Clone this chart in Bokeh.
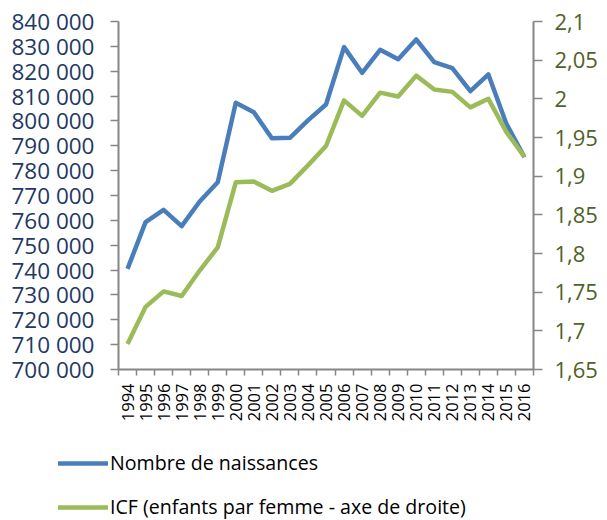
from bokeh.plotting import figure
from bokeh.models import (Range1d, LinearAxis, FixedTicker, CustomJSTickFormatter,
                          Legend, LegendItem)
from bokeh.embed import file_html
from bokeh.resources import INLINE

years = list(range(1994, 2017))
naissances = [740500, 759300, 764250, 757650, 767600, 775350, 807300, 803500,
              793000, 793200, 800200, 806600, 829700, 819350, 828600, 824850,
              832760, 823640, 821200, 811970, 818700, 798800, 785400]
icf = [1.683, 1.731, 1.751, 1.745, 1.778, 1.808, 1.892, 1.893, 1.881, 1.890,
       1.914, 1.939, 1.998, 1.978, 2.008, 2.003, 2.030, 2.012, 2.009, 1.989,
       2.000, 1.957, 1.925]
left_ticks = list(range(700000, 840001, 10000))
right_ticks = [1.65, 1.7, 1.75, 1.8, 1.85, 1.9, 1.95, 2.0, 2.05, 2.1]
labels = ["Nombre de naissances", "ICF (enfants par femme - axe de droite)"]

BLUE = "#4A7EBB"
GREEN = "#9BBB59"
AXIS = "#868686"
FONT = "Open Sans"

p = figure(width=607, height=430, output_backend="svg", toolbar_location=None,
           x_range=Range1d(years[0] - 0.5, years[-1] + 0.5),
           y_range=Range1d(700000, 840000),
           min_border_left=118, min_border_right=74, min_border_top=21,
           min_border_bottom=61)
p.outline_line_color = None
p.xgrid.visible = False
p.ygrid.visible = False
p.extra_y_ranges = {"icf": Range1d(1.65, 2.1)}

p.line(years, naissances, line_color=BLUE, line_width=4.5, line_join="round")
p.line(years, icf, line_color=GREEN, line_width=4.5, line_join="round",
       y_range_name="icf")

# x axis
xa = p.xaxis[0]
xa.ticker = FixedTicker(ticks=years, minor_ticks=[y - 0.5 for y in years] + [years[-1] + 0.5])
xa.formatter = CustomJSTickFormatter(code="return Math.round(tick).toString();")
xa.major_label_orientation = 3.14159265 / 2
xa.major_tick_out = 0
xa.major_tick_in = 0
xa.minor_tick_out = 6
xa.minor_tick_in = 0
xa.minor_tick_line_color = AXIS
xa.minor_tick_line_width = 1.5
xa.axis_line_color = AXIS
xa.axis_line_width = 2
xa.major_label_standoff = 8
xa.major_label_text_font = FONT
xa.major_label_text_font_size = "16.5px"
xa.major_label_text_color = "#000000"

# left axis
ya = p.yaxis[0]
ya.ticker = FixedTicker(ticks=left_ticks)
ya.formatter = CustomJSTickFormatter(
    code="const s = Math.round(tick).toString(); return s.slice(0,-3) + ' ' + s.slice(-3);")
ya.major_tick_out = 8
ya.major_tick_in = 0
ya.minor_tick_out = 0
ya.minor_tick_in = 0
ya.major_tick_line_color = AXIS
ya.major_tick_line_width = 1.5
ya.axis_line_color = AXIS
ya.axis_line_width = 2
ya.major_label_standoff = 16
ya.major_label_text_font = FONT
ya.major_label_text_font_size = "22.5px"
ya.major_label_text_color = "#1F3864"

# right axis
ra = LinearAxis(y_range_name="icf")
ra.ticker = FixedTicker(ticks=right_ticks)
ra.formatter = CustomJSTickFormatter(
    code="return (Math.round(tick*100)/100).toString().replace('.', ',');")
ra.major_tick_out = 9
ra.major_tick_in = 0
ra.minor_tick_out = 0
ra.minor_tick_in = 0
ra.major_tick_line_color = AXIS
ra.major_tick_line_width = 1.5
ra.axis_line_color = AXIS
ra.axis_line_width = 2
ra.major_label_standoff = 12
ra.major_label_text_font = FONT
ra.major_label_text_font_size = "22px"
ra.major_label_text_color = "#4F6228"
p.add_layout(ra, "right")

# legend panel below the chart (separate root, not frame-aligned)
p2 = figure(width=607, height=90, output_backend="svg", toolbar_location=None,
            x_range=Range1d(0, 1), y_range=Range1d(0, 1),
            x_axis_type=None, y_axis_type=None,
            min_border_left=0, min_border_right=0, min_border_top=0,
            min_border_bottom=0)
p2.outline_line_color = None
l1 = p2.line(years[:1], naissances[:1], line_color=BLUE, line_width=4.5, line_cap="round")
l2 = p2.line(years[:1], icf[:1], line_color=GREEN, line_width=4.5, line_cap="round")

legend = Legend(items=[LegendItem(label=labels[0], renderers=[l1]),
                       LegendItem(label=labels[1], renderers=[l2])],
                location=(58, 0), orientation="vertical")
legend.border_line_color = None
legend.background_fill_alpha = 0
legend.padding = 0
legend.margin = 0
legend.glyph_width = 50
legend.glyph_height = 20
legend.label_height = 20
legend.spacing = 17
legend.label_standoff = 2
legend.label_text_font = FONT
legend.label_text_font_size = "19.6px"
legend.label_text_color = "#000000"
p2.add_layout(legend, "center")

open("out.html", "w").write(file_html([p, p2], INLINE))
